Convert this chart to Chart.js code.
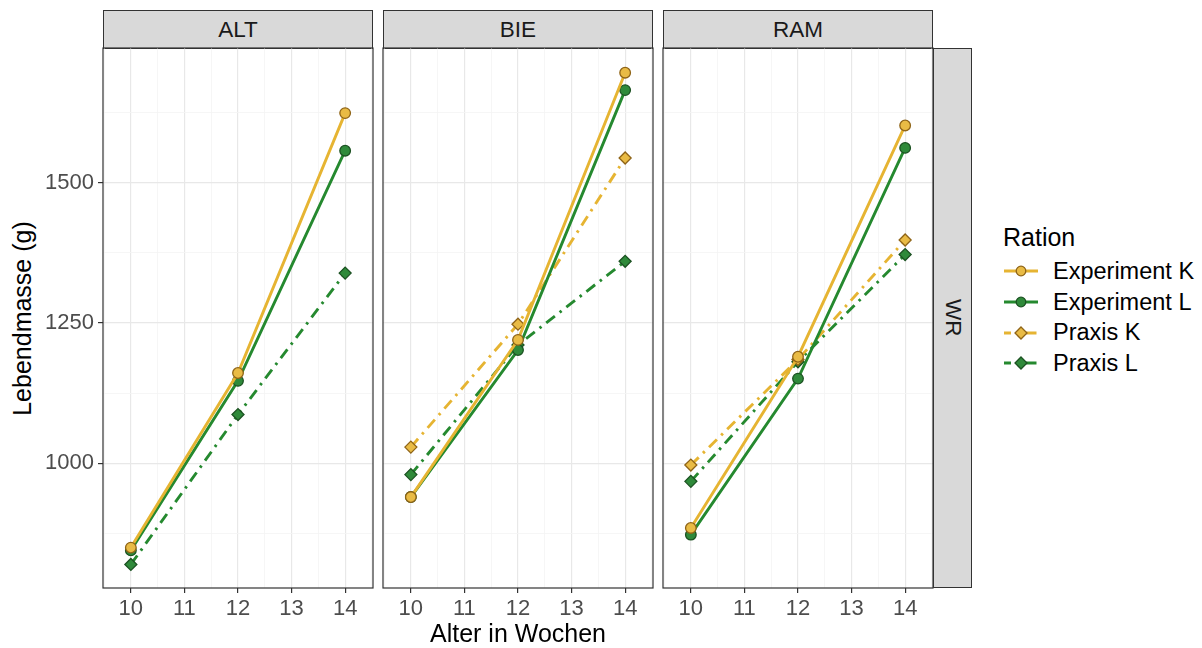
<!DOCTYPE html>
<html>
<head>
<meta charset="utf-8">
<script src="https://cdn.jsdelivr.net/npm/chart.js@4/dist/chart.umd.min.js"></script>
<style>
  html, body { margin: 0; padding: 0; background: #ffffff; }
  body { width: 1202px; height: 648px; position: relative; overflow: hidden;
         font-family: "Liberation Sans", Arial, sans-serif; }
  .panel { position: absolute; }
  .strip { position: absolute; background: #d9d9d9; border: 1.2px solid #333333; box-sizing: border-box;
           display: flex; align-items: center; justify-content: center; color: #1a1a1a; font-size: 22.5px; }
  .strip.right { writing-mode: vertical-rl; }
  .axis-title { position: absolute; color: #000000; font-size: 25px; white-space: nowrap; }
  #legend { position: absolute; left: 1003px; top: 219px; color: #000; }
  #legend .ttl { font-size: 25px; height: 37px; line-height: 37px; }
  #legend .row { display: flex; align-items: center; height: 30.7px; font-size: 23.5px; }
  #legend svg { margin-right: 14px; }
</style>
</head>
<body>
<script>
// Weeks of age at weighing
const weeks = [10, 12, 14];
const farms = ['ALT', 'BIE', 'RAM'];
const rowLabel = 'WR';
const seriesNames = ['Experiment K', 'Experiment L', 'Praxis K', 'Praxis L'];

// Live weight (g) per farm and ration
const altExpK  = [850, 1161, 1624];
const altExpL  = [845, 1147, 1557];
const altPraxK = [];
const altPraxL = [820, 1087, 1339];

const bieExpK  = [940, 1220, 1696];
const bieExpL  = [940, 1202, 1665];
const biePraxK = [1029, 1248, 1544];
const biePraxL = [980, 1211, 1360];

const ramExpK  = [885, 1190, 1602];
const ramExpL  = [873, 1151, 1562];
const ramPraxK = [997, 1185, 1398];
const ramPraxL = [968, 1181, 1372];

const yTicks = [1000, 1250, 1500];
const xTicks = [10, 11, 12, 13, 14];

const farmSeries = {
  ALT: [altExpK, altExpL, altPraxK, altPraxL],
  BIE: [bieExpK, bieExpL, biePraxK, biePraxL],
  RAM: [ramExpK, ramExpL, ramPraxK, ramPraxL]
};

// Visual style per ration
const GOLD = '#e6b432', GREEN = '#25892f';
const styles = [
  { line: GOLD,  fill: '#e9bb45', edge: '#8f6417', point: 'circle',  dash: [] },
  { line: GREEN, fill: '#2f8a3a', edge: '#1c5222', point: 'circle',  dash: [] },
  { line: GOLD,  fill: '#e9bb45', edge: '#8f6417', point: 'rectRot', dash: [11, 6, 2.5, 6] },
  { line: GREEN, fill: '#2f8a3a', edge: '#1c5222', point: 'rectRot', dash: [11, 6, 2.5, 6] }
];

// Layout of the facet grid
const PANEL_W = 270, PANEL_H = 540, PANEL_TOP = 48, GAP = 10, FIRST_LEFT = 103;
const Y_AXIS_W = 60, X_AXIS_H = 40, PAD = 2;
const Y_MIN = 778, Y_MAX = 1740, X_MIN = 9.48, X_MAX = 14.52;

const frame = {
  id: 'frame',
  afterDraw(chart) {
    const a = chart.chartArea, c = chart.ctx;
    c.save();
    c.strokeStyle = '#333333';
    c.lineWidth = 1.2;
    c.strokeRect(a.left, a.top, a.right - a.left, a.bottom - a.top);
    c.restore();
  }
};

// fixed axis boxes so every panel gets the same plotting area
function fixBox(s, size) {
  if (s.isHorizontal()) s.height = size; else s.width = size;
  s.paddingTop = 0; s.paddingBottom = 0; s.paddingLeft = 0; s.paddingRight = 0;
}

farms.forEach((farm, p) => {
  const left = FIRST_LEFT + p * (PANEL_W + GAP);

  const strip = document.createElement('div');
  strip.className = 'strip';
  Object.assign(strip.style, { left: left + 'px', top: '10px', width: PANEL_W + 'px', height: (PANEL_TOP - 10 + 1) + 'px' });
  strip.textContent = farm;
  document.body.appendChild(strip);

  const cv = document.createElement('canvas');
  cv.className = 'panel';
  cv.width = Y_AXIS_W + PANEL_W + PAD;
  cv.height = PAD + PANEL_H + X_AXIS_H;
  cv.style.left = (left - Y_AXIS_W) + 'px';
  cv.style.top = (PANEL_TOP - PAD) + 'px';
  document.body.appendChild(cv);

  const datasets = farmSeries[farm].map((vals, s) => ({
    label: seriesNames[s],
    data: vals.map((v, i) => ({ x: weeks[i], y: v })),
    borderColor: styles[s].line,
    borderWidth: 2.9,
    borderDash: styles[s].dash,
    pointStyle: styles[s].point,
    pointRadius: styles[s].point === 'circle' ? 5.3 : 6,
    pointBackgroundColor: styles[s].fill,
    pointBorderColor: styles[s].edge,
    pointBorderWidth: 1.3,
    tension: 0,
    fill: false
  }));

  const first = p === 0;
  new Chart(cv, {
    type: 'line',
    data: { datasets },
    options: {
      responsive: false,
      devicePixelRatio: 1,
      animation: false,
      events: [],
      layout: { autoPadding: false, padding: { top: PAD, right: PAD, left: 0, bottom: 0 } },
      plugins: { legend: { display: false }, tooltip: { enabled: false } },
      scales: {
        x: {
          type: 'linear', min: X_MIN, max: X_MAX,
          afterFit: s => fixBox(s, X_AXIS_H),
          border: { display: false },
          grid: {
            color: ctx => Number.isInteger(ctx.tick.value) ? '#e8e8e8' : '#f4f4f4',
            lineWidth: ctx => Number.isInteger(ctx.tick.value) ? 1.2 : 0.8,
            tickColor: ctx => xTicks.includes(ctx.tick.value) ? '#333333' : 'rgba(0,0,0,0)',
            tickLength: 5, tickWidth: 1.2
          },
          ticks: {
            stepSize: 0.5, includeBounds: false, autoSkip: false, maxRotation: 0, padding: 3,
            color: '#4d4d4d', font: { family: 'Liberation Sans', size: 22 },
            callback: v => xTicks.includes(v) ? String(v) : ''
          }
        },
        y: {
          type: 'linear', min: Y_MIN, max: Y_MAX,
          afterFit: s => fixBox(s, Y_AXIS_W),
          border: { display: false },
          grid: {
            color: ctx => yTicks.includes(ctx.tick.value) ? '#e8e8e8' : '#f4f4f4',
            lineWidth: ctx => yTicks.includes(ctx.tick.value) ? 1.2 : 0.8,
            drawTicks: first,
            tickColor: ctx => yTicks.includes(ctx.tick.value) ? '#333333' : 'rgba(0,0,0,0)',
            tickLength: 5, tickWidth: 1.2
          },
          ticks: {
            display: first, stepSize: 125, includeBounds: false, autoSkip: false, padding: 4,
            color: '#4d4d4d', font: { family: 'Liberation Sans', size: 22 },
            callback: v => yTicks.includes(v) ? String(v) : ''
          }
        }
      }
    },
    plugins: [frame]
  });
});

// Row strip on the right
const lastRight = FIRST_LEFT + 3 * PANEL_W + 2 * GAP;
const rstrip = document.createElement('div');
rstrip.className = 'strip right';
Object.assign(rstrip.style, { left: lastRight + 'px', top: PANEL_TOP + 'px', width: '39px', height: PANEL_H + 'px' });
rstrip.textContent = rowLabel;
document.body.appendChild(rstrip);

// Axis titles
const xt = document.createElement('div');
xt.className = 'axis-title';
xt.textContent = 'Alter in Wochen';
document.body.appendChild(xt);
xt.style.left = ((FIRST_LEFT + lastRight) / 2 - xt.offsetWidth / 2) + 'px';
xt.style.top = (633 - xt.offsetHeight / 2) + 'px';

const yt = document.createElement('div');
yt.className = 'axis-title';
yt.textContent = 'Lebendmasse (g)';
document.body.appendChild(yt);
yt.style.transformOrigin = 'center center';
yt.style.left = (22 - yt.offsetWidth / 2) + 'px';
yt.style.top = ((PANEL_TOP + PANEL_TOP + PANEL_H) / 2 - yt.offsetHeight / 2) + 'px';
yt.style.transform = 'rotate(-90deg)';

// Legend
const lg = document.createElement('div');
lg.id = 'legend';
lg.innerHTML = '<div class="ttl">Ration</div>';
seriesNames.forEach((name, s) => {
  const st = styles[s];
  const row = document.createElement('div');
  row.className = 'row';
  const dash = st.dash.length ? ' stroke-dasharray="' + st.dash.join(' ') + '" stroke-dashoffset="4"' : '';
  const mark = st.point === 'circle'
    ? '<circle cx="18" cy="10" r="4.8" fill="' + st.fill + '" stroke="' + st.edge + '" stroke-width="1.3"/>'
    : '<polygon points="18,4 24,10 18,16 12,10" fill="' + st.fill + '" stroke="' + st.edge + '" stroke-width="1.3"/>';
  row.innerHTML = '<svg width="36" height="20"><line x1="1" y1="10" x2="35" y2="10" stroke="' + st.line +
    '" stroke-width="2.9"' + dash + '/>' + mark + '</svg><span>' + name + '</span>';
  lg.appendChild(row);
});
document.body.appendChild(lg);
</script>
</body>
</html>
